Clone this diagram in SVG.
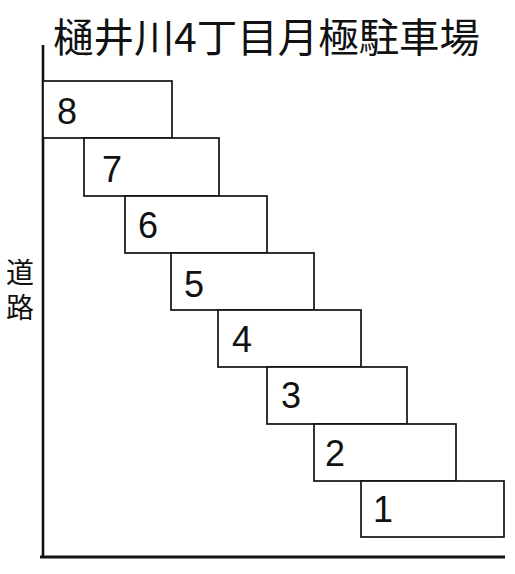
<svg xmlns="http://www.w3.org/2000/svg" width="515" height="574" viewBox="0 0 515 574">
<style>
.box{fill:#fff;stroke:#111;stroke-width:1.7}
.num{font-family:"Liberation Sans",Arial,sans-serif;font-size:36px;fill:#111}
.jp{font-family:"Noto Sans CJK JP","Noto Sans CJK SC",sans-serif;fill:#111}
.axis{stroke:#111;fill:none}
</style>
<rect width="515" height="574" fill="#fff"/>
<text class="jp" x="53" y="52" font-size="40" textLength="427" lengthAdjust="spacingAndGlyphs">樋井川4丁目月極駐車場</text>
<g id="road-label">
<text class="jp" x="20" y="258" font-size="28" writing-mode="vertical-rl" letter-spacing="7">道路</text>
</g>
<g id="connectors">
<line class="axis" x1="43" y1="45" x2="43" y2="556" stroke-width="2.6"/>
<line class="axis" x1="40" y1="557" x2="505" y2="557" stroke-width="3"/>
</g>
<g id="space-8"><rect class="box" x="43" y="81" width="129" height="57"/><text class="num" x="57" y="124">8</text></g>
<g id="space-7"><rect class="box" x="84" y="138" width="135" height="58"/><text class="num" x="102" y="182">7</text></g>
<g id="space-6"><rect class="box" x="125" y="196" width="142" height="57"/><text class="num" x="138" y="238">6</text></g>
<g id="space-5"><rect class="box" x="171" y="253" width="143" height="57"/><text class="num" x="184" y="297">5</text></g>
<g id="space-4"><rect class="box" x="218" y="310" width="143" height="57"/><text class="num" x="232" y="352">4</text></g>
<g id="space-3"><rect class="box" x="267" y="367" width="140" height="57"/><text class="num" x="281" y="408">3</text></g>
<g id="space-2"><rect class="box" x="314" y="424" width="142" height="57"/><text class="num" x="325" y="466">2</text></g>
<g id="space-1"><rect class="box" x="361" y="481" width="143" height="56"/><text class="num" x="373" y="522">1</text></g>
</svg>
